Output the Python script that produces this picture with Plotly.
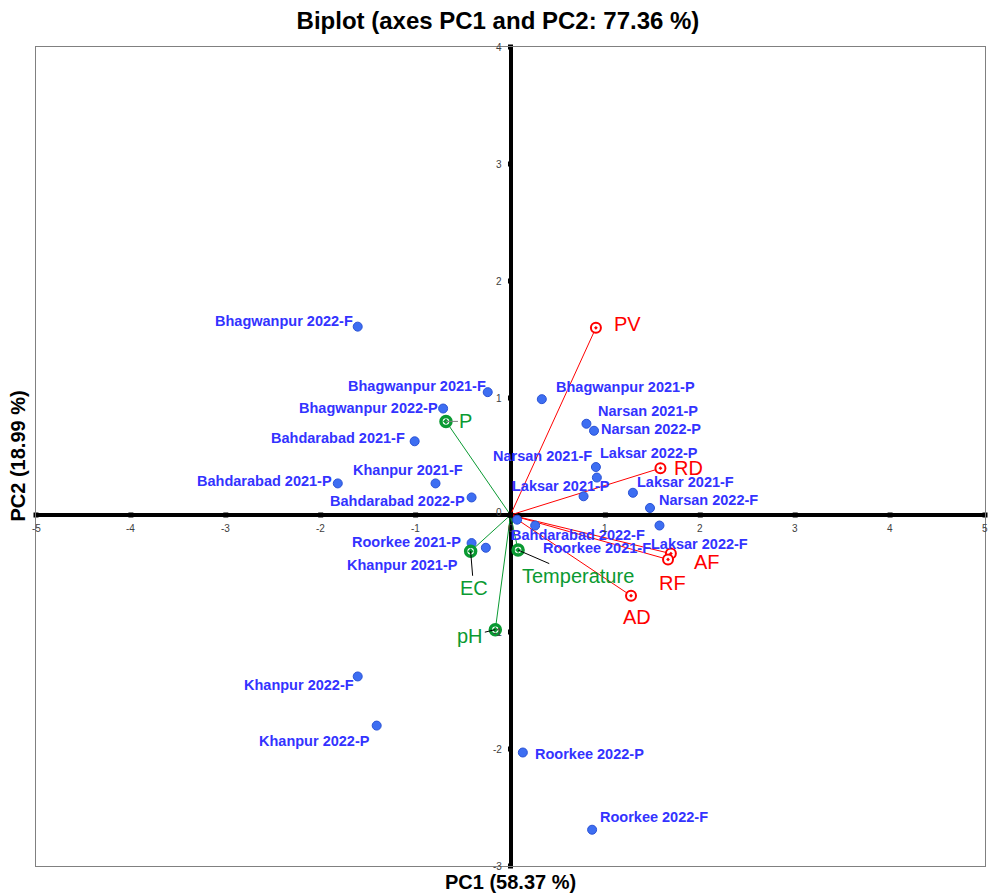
import plotly.graph_objects as go

# ---------------- data ----------------
obs_names = [
    "Bhagwanpur 2022-F", "Bhagwanpur 2021-F", "Bhagwanpur 2022-P", "Bahdarabad 2021-F",
    "Khanpur 2021-F", "Bahdarabad 2021-P", "Bahdarabad 2022-P", "Bhagwanpur 2021-P",
    "Narsan 2021-P", "Narsan 2022-P", "Laksar 2022-P", "Narsan 2021-F",
    "Laksar 2021-P", "Laksar 2021-F", "Narsan 2022-F", "Laksar 2022-F",
    "Bahdarabad 2022-F", "Roorkee 2021-F", "Roorkee 2021-P", "Khanpur 2021-P",
    "Khanpur 2022-F", "Khanpur 2022-P", "Roorkee 2022-P", "Roorkee 2022-F",
]
obs_pc1 = [-1.61, -0.24, -0.71, -1.01, -0.79, -1.82, -0.41, 0.33,
           0.80, 0.88, 0.90, 0.91, 0.77, 1.29, 1.47, 1.57,
           0.07, 0.26, -0.41, -0.26, -1.61, -1.41, 0.13, 0.86]
obs_pc2 = [1.61, 1.05, 0.91, 0.63, 0.27, 0.27, 0.15, 0.99,
           0.78, 0.72, 0.41, 0.32, 0.16, 0.19, 0.06, -0.09,
           -0.04, -0.09, -0.24, -0.28, -1.38, -1.80, -2.03, -2.69]

var_names = ["PV", "RD", "AF", "RF", "AD", "P", "EC", "Temperature", "pH"]
var_pc1 = [0.90, 1.58, 1.69, 1.66, 1.27, -0.68, -0.42, 0.08, -0.16]
var_pc2 = [1.60, 0.40, -0.33, -0.38, -0.69, 0.80, -0.31, -0.30, -0.98]
var_group = ["red", "red", "red", "red", "red", "green", "green", "green", "green"]

x_ticks = [-5, -4, -3, -2, -1, 0, 1, 2, 3, 4, 5]
y_ticks = [-3, -2, -1, 0, 1, 2, 3, 4]

title_text = "Biplot (axes PC1 and PC2: 77.36 %)"
x_title = "PC1 (58.37 %)"
y_title = "PC2 (18.99 %)"

# ---------------- styles / placements ----------------
RED = "#ff0000"
GREEN = "#0a9a32"
OBS_TXT = "#3333ff"
OBS_PT = "#3d6ef2"
FONT = "Arial, Liberation Sans, sans-serif"

# label placement: (xanchor, xshift, yshift)
obs_label_pos = {
    "Bhagwanpur 2022-F": ("right", -3, 6),
    "Bhagwanpur 2021-F": ("right", 0, 6),
    "Bhagwanpur 2022-P": ("right", -3, 1),
    "Bahdarabad 2021-F": ("right", -8, 3),
    "Khanpur 2021-F": ("right", 29, 13),
    "Bahdarabad 2021-P": ("right", -4, 2),
    "Bahdarabad 2022-P": ("right", -5, -4),
    "Bhagwanpur 2021-P": ("left", 12, 12),
    "Narsan 2021-P": ("left", 10, 13),
    "Narsan 2022-P": ("left", 5, 2),
    "Laksar 2022-P": ("left", 2, 14),
    "Narsan 2021-F": ("right", -3, 22),
    "Laksar 2021-P": ("right", 28, 10),
    "Laksar 2021-F": ("left", 2, 11),
    "Narsan 2022-F": ("left", 7, 8),
    "Laksar 2022-F": ("left", -10, -18),
    "Bahdarabad 2022-F": ("left", -8, -15),
    "Roorkee 2021-F": ("left", 6, -22),
    "Roorkee 2021-P": ("right", -9, 1),
    "Khanpur 2021-P": ("right", -26, -17),
    "Khanpur 2022-F": ("right", -2, -9),
    "Khanpur 2022-P": ("right", -5, -15),
    "Roorkee 2022-P": ("left", 10, -1),
    "Roorkee 2022-F": ("left", 6, 13),
}
# variable labels without leader: (xanchor, xshift, yshift)
var_label_pos = {
    "PV": ("left", 16, 4),
    "RD": ("left", 12, 0),
    "AF": ("left", 21, -8),
    "RF": ("center", 4, -24),
    "AD": ("center", 6, -21),
}
# variable labels with leader line: (ax, ay, arrowcolor)
var_leader = {
    "P": (20, 0, "#808080"),
    "EC": (3, 37, "#000000"),
    "Temperature": (60, 26, "#000000"),
    "pH": (-25, 6, "#000000"),
}

fig = go.Figure()

# vectors from origin
for n, vx, vy, g in zip(var_names, var_pc1, var_pc2, var_group):
    fig.add_trace(go.Scatter(
        x=[0, vx], y=[0, vy], mode="lines",
        line=dict(color=RED if g == "red" else GREEN, width=1),
        hoverinfo="skip", showlegend=False))

# tick marks on zero axes
fig.add_trace(go.Scatter(
    x=x_ticks, y=[0] * len(x_ticks), mode="markers",
    marker=dict(symbol="square", size=5, color="black"),
    hoverinfo="skip", showlegend=False, cliponaxis=False))
fig.add_trace(go.Scatter(
    x=[0] * len(y_ticks), y=y_ticks, mode="markers",
    marker=dict(symbol="square", size=5, color="black"),
    hoverinfo="skip", showlegend=False, cliponaxis=False))

# observations
fig.add_trace(go.Scatter(
    x=obs_pc1, y=obs_pc2, mode="markers", text=obs_names,
    marker=dict(symbol="circle", size=9, color=OBS_PT,
                line=dict(color="#2a52d6", width=1)),
    showlegend=False))

# variables
rx = [x for x, g in zip(var_pc1, var_group) if g == "red"]
ry = [y for y, g in zip(var_pc2, var_group) if g == "red"]
gx = [x for x, g in zip(var_pc1, var_group) if g == "green"]
gy = [y for y, g in zip(var_pc2, var_group) if g == "green"]
fig.add_trace(go.Scatter(
    x=rx, y=ry, mode="markers",
    marker=dict(symbol="circle-dot", size=10, color="white",
                line=dict(color=RED, width=2)),
    showlegend=False))
fig.add_trace(go.Scatter(
    x=gx, y=gy, mode="markers",
    marker=dict(symbol="circle-dot", size=10, color="white",
                line=dict(color=GREEN, width=3.5)),
    showlegend=False))

ann = []
for n, x, y in zip(obs_names, obs_pc1, obs_pc2):
    xa, xs, ys = obs_label_pos[n]
    ann.append(dict(x=x, y=y, text="<b>%s</b>" % n, showarrow=False,
                    xanchor=xa, yanchor="middle", xshift=xs, yshift=ys,
                    font=dict(family=FONT, size=14.5, color=OBS_TXT)))
for n, x, y, g in zip(var_names, var_pc1, var_pc2, var_group):
    col = RED if g == "red" else GREEN
    if n in var_label_pos:
        xa, xs, ys = var_label_pos[n]
        ann.append(dict(x=x, y=y, text=n, showarrow=False,
                        xanchor=xa, yanchor="middle", xshift=xs, yshift=ys,
                        font=dict(family=FONT, size=20, color=col)))
    else:
        axo, ayo, ac = var_leader[n]
        ann.append(dict(x=x, y=y, text=n, showarrow=True, arrowhead=0,
                        arrowwidth=1, arrowcolor=ac, ax=axo, ay=ayo, standoff=0,
                        font=dict(family=FONT, size=20, color=col)))

# tick labels along the zero axes
for t in x_ticks:
    ann.append(dict(x=t, y=0, text=str(t), showarrow=False, xanchor="center",
                    yanchor="top", yshift=-6,
                    font=dict(family=FONT, size=10, color="#404040")))
for t in y_ticks:
    ann.append(dict(x=0, y=t, text=str(t), showarrow=False, xanchor="right",
                    yanchor="middle", xshift=-7, yshift=3 if t == 0 else 0,
                    font=dict(family=FONT, size=10, color="#404040")))

# axis titles
ann.append(dict(x=0.5, y=0, xref="paper", yref="paper", text="<b>%s</b>" % x_title,
                showarrow=False, xanchor="center", yanchor="top", yshift=-3,
                font=dict(family=FONT, size=20, color="black")))
ann.append(dict(x=0, y=0.5, xref="paper", yref="paper", text="<b>%s</b>" % y_title,
                showarrow=False, xanchor="right", yanchor="middle", xshift=-6,
                textangle=-90, font=dict(family=FONT, size=20, color="black")))

fig.update_layout(
    width=990, height=894,
    margin=dict(l=36, r=5, t=47, b=28),
    paper_bgcolor="white", plot_bgcolor="white",
    title=dict(text="<b>%s</b>" % title_text, x=0.503, xref="container",
               y=0.977, yref="container", xanchor="center", yanchor="middle",
               font=dict(family=FONT, size=24, color="black")),
    annotations=ann,
    xaxis=dict(range=[-5, 5], showgrid=False, zeroline=True, zerolinewidth=4,
               zerolinecolor="black", showline=True, mirror=True,
               linecolor="#808080", linewidth=1, showticklabels=False,
               ticks=""),
    yaxis=dict(range=[-3, 4], showgrid=False, zeroline=True, zerolinewidth=4,
               zerolinecolor="black", showline=True, mirror=True,
               linecolor="#808080", linewidth=1, showticklabels=False,
               ticks=""),
    showlegend=False,
)

fig.write_html("out.html", config={"displayModeBar": False},
               post_script="document.body.style.margin='0';document.body.style.overflow='hidden';")
